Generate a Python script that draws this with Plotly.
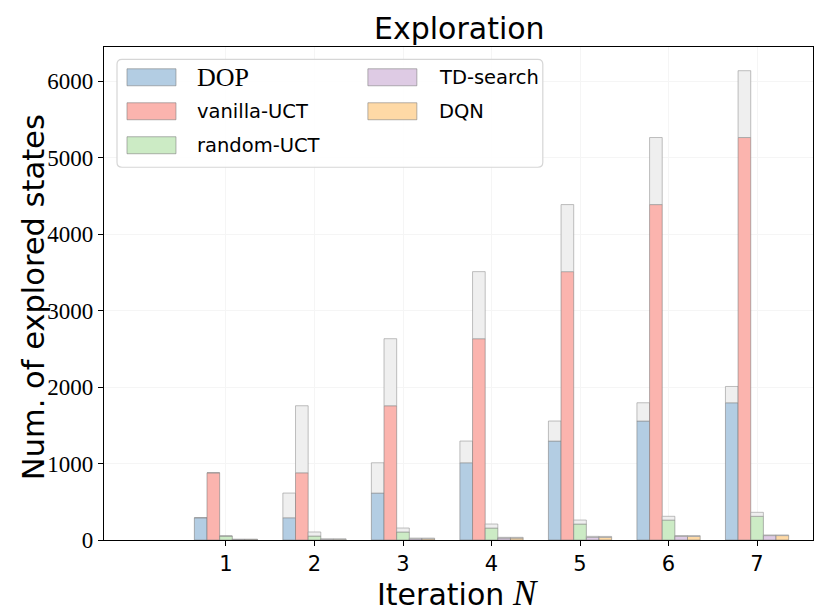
import plotly.graph_objects as go

iterations = [1, 2, 3, 4, 5, 6, 7]
methods = ["DOP", "vanilla-UCT", "random-UCT", "TD-search", "DQN"]
dop_total = [291, 614, 1010, 1294, 1556, 1795, 2008]
vanilla_total = [879, 1756, 2633, 3510, 4387, 5264, 6138]
random_total = [52, 105, 157, 209, 261, 310, 362]
td_total = [8, 15, 25, 35, 48, 58, 66]
dqn_total = [8, 15, 25, 35, 47, 58, 66]
colors = ["#b3cde3", "#fbb4ae", "#ccebc5", "#decbe4", "#fed9a6"]
y_ticks = [0, 1000, 2000, 3000, 4000, 5000, 6000]

totals = [dop_total, vanilla_total, random_total, td_total, dqn_total]

W, H = 830, 612
L, R, T, B = 104, 813.3, 46.7, 540.0
bw = 1.0 / 7

fig = go.Figure()
for k, (name, tot, col) in enumerate(zip(methods, totals, colors)):
    base = [tot[0]] + tot[:-1]
    inc = [t - b for t, b in zip(tot, base)]
    xs = [n + (k - 2) * bw for n in iterations]
    fig.add_trace(go.Bar(x=xs, y=base, width=bw, name=name, marker=dict(color=col, line=dict(color="rgba(120,120,120,0.55)", width=1)), showlegend=False))
    fig.add_trace(go.Bar(x=xs, y=inc, base=base, width=bw, marker=dict(color="#efefef", line=dict(color="rgba(150,150,150,0.6)", width=1)), showlegend=False))

def px_x(p):
    return (p - L) / (R - L)

def px_y(p):
    return (B - p) / (B - T)

shapes = []
# legend box with rounded corners
x0, x1, y0, y1, r = 117, 543, 59, 167, 5
path = (f"M {px_x(x0 + r)} {px_y(y0)} L {px_x(x1 - r)} {px_y(y0)} "
        f"Q {px_x(x1)} {px_y(y0)} {px_x(x1)} {px_y(y0 + r)} L {px_x(x1)} {px_y(y1 - r)} "
        f"Q {px_x(x1)} {px_y(y1)} {px_x(x1 - r)} {px_y(y1)} L {px_x(x0 + r)} {px_y(y1)} "
        f"Q {px_x(x0)} {px_y(y1)} {px_x(x0)} {px_y(y1 - r)} L {px_x(x0)} {px_y(y0 + r)} "
        f"Q {px_x(x0)} {px_y(y0)} {px_x(x0 + r)} {px_y(y0)} Z")
shapes.append(dict(type="path", xref="paper", yref="paper", path=path,
                   fillcolor="rgba(255,255,255,0.85)", line=dict(color="#d6d6d6", width=1.2), layer="above"))

annotations = []
rows = [77, 111, 145]
slots = [(127, 195, rows[0]), (127, 195, rows[1]), (127, 195, rows[2]), (368, 437, rows[0]), (368, 437, rows[1])]
for (sx, tx, ry), name, col in zip(slots, methods, colors):
    shapes.append(dict(type="rect", xref="paper", yref="paper", x0=px_x(sx), x1=px_x(sx + 49),
                       y0=px_y(ry - 8.5), y1=px_y(ry + 8.5), fillcolor=col,
                       line=dict(color="rgba(120,120,120,0.55)", width=1), layer="above"))
    if name == "DOP":
        font = dict(family="Liberation Serif", size=26, color="black")
    else:
        font = dict(family="DejaVu Sans", size=19.5, color="black")
    annotations.append(dict(xref="paper", yref="paper", x=px_x(tx), y=px_y(ry), text=name,
                            showarrow=False, xanchor="left", yanchor="middle", font=font))

annotations.append(dict(xref="paper", yref="paper", x=px_x(460), y=px_y(28), text="Exploration",
                        showarrow=False, xanchor="center", yanchor="middle",
                        font=dict(family="DejaVu Sans", size=30, color="black")))
annotations.append(dict(xref="paper", yref="paper", x=px_x(33), y=px_y(297), text="Num. of explored states",
                        showarrow=False, xanchor="center", yanchor="middle", textangle=-90,
                        font=dict(family="DejaVu Sans", size=30.5, color="black")))
annotations.append(dict(xref="paper", yref="paper", x=px_x(375), y=px_y(594.5),
                        text="Iteration",
                        showarrow=False, xanchor="left", yanchor="middle",
                        font=dict(family="DejaVu Sans", size=30, color="black")))
annotations.append(dict(xref="paper", yref="paper", x=px_x(510), y=px_y(594),
                        text="<i>N</i>",
                        showarrow=False, xanchor="left", yanchor="middle",
                        font=dict(family="Liberation Serif", size=35, color="black")))

fig.update_layout(
    width=W, height=H, barmode="overlay",
    margin=dict(l=L, r=W - R, t=T, b=H - B, pad=0),
    paper_bgcolor="white", plot_bgcolor="white",
    shapes=shapes, annotations=annotations,
    xaxis=dict(range=[-0.378, 7.632], tickvals=iterations, ticktext=[str(i) for i in iterations],
               ticks="outside", ticklen=5, tickcolor="black", showline=True, linecolor="black", linewidth=1.2,
               mirror=True, showgrid=True, gridcolor="#f5f5f5", zeroline=False,
               tickfont=dict(family="DejaVu Sans", size=21, color="black")),
    yaxis=dict(range=[0, 6448], tickvals=y_ticks, ticks="outside", ticklen=5, tickcolor="black",
               showline=True, linecolor="black", linewidth=1.2, mirror=True, showgrid=True,
               gridcolor="#f5f5f5", zeroline=False,
               tickfont=dict(family="Liberation Serif", size=23, color="black")),
)

fig.write_html("out.html", config={"displayModeBar": False},
               post_script="document.body.style.margin='0';document.body.style.overflow='hidden';")
